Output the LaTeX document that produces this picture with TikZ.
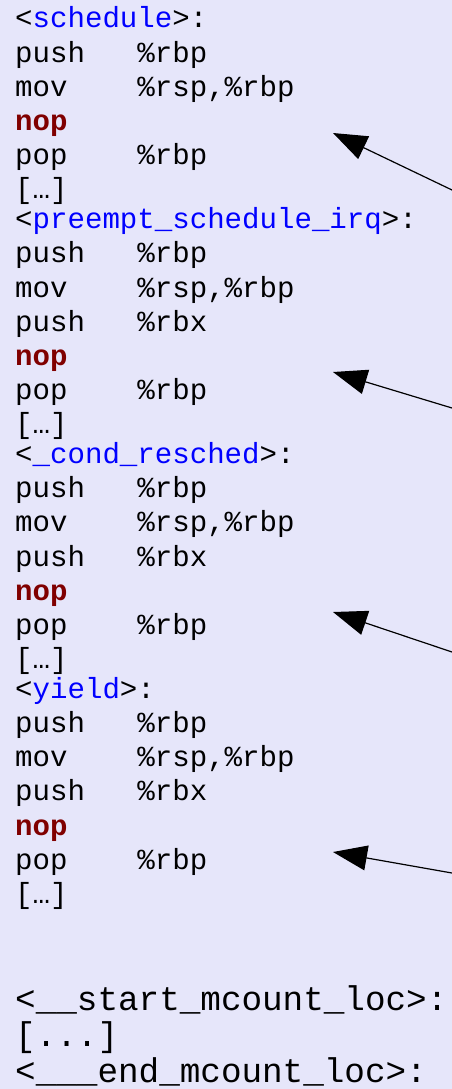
\documentclass[tikz,border=0pt]{standalone}
\usepackage{fontspec}
\usetikzlibrary{arrows.meta}
\usepackage{xcolor}
\newfontfamily\asmfont{Liberation Mono}
\definecolor{bgcol}{RGB}{230,230,250}
\definecolor{fnblue}{RGB}{0,0,255}
\definecolor{nopred}{RGB}{128,0,0}
\newcommand{\fn}[1]{<\textcolor{fnblue}{#1}>:}

\begin{document}
\begin{tikzpicture}[x=1pt,y=-1pt]
    \tikzstyle{asm}=[anchor=base west,inner sep=0pt,font=\asmfont\fontsize{29.1}{34}\selectfont]
    \tikzstyle{bigasm}=[asm,text height=20pt,text depth=5pt,font=\asmfont\fontsize{34.3}{40}\selectfont]
    \tikzstyle{nopline}=[asm,text=nopred,font=\asmfont\bfseries\fontsize{29.1}{34}\selectfont]
    \tikzstyle{hint}=[-{Triangle[length=34pt,width=25pt]},line width=1.2pt]

    \useasboundingbox[fill=bgcol] (0,0) rectangle (452,1089);

    % schedule
    \node[asm] (s0) at (15,28) {\fn{schedule}};
    \node[asm] (s1) at (15,62.1) {push\ \ \ \%rbp};
    \node[asm] (s2) at (15,96.1) {mov\ \ \ \ \%rsp,\%rbp};
    \node[nopline] (nop1) at (15,130.2) {nop};
    \node[asm] (s4) at (15,164.3) {pop\ \ \ \ \%rbp};
    \node[asm] (s5) at (15,198.4) {[…]};

    % preempt_schedule_irq
    \node[asm] (p0) at (15,228.9) {\fn{preempt\_schedule\_irq}};
    \node[asm] (p1) at (15,262.9) {push\ \ \ \%rbp};
    \node[asm] (p2) at (15,297) {mov\ \ \ \ \%rsp,\%rbp};
    \node[asm] (p3) at (15,331.1) {push\ \ \ \%rbx};
    \node[nopline] (nop2) at (15,365.1) {nop};
    \node[asm] (p5) at (15,399.2) {pop\ \ \ \ \%rbp};
    \node[asm] (p6) at (15,433.3) {[…]};

    % _cond_resched
    \node[asm] (c0) at (15,463.8) {\fn{\_cond\_resched}};
    \node[asm] (c1) at (15,497.8) {push\ \ \ \%rbp};
    \node[asm] (c2) at (15,531.9) {mov\ \ \ \ \%rsp,\%rbp};
    \node[asm] (c3) at (15,566) {push\ \ \ \%rbx};
    \node[nopline] (nop3) at (15,600.1) {nop};
    \node[asm] (c5) at (15,634.1) {pop\ \ \ \ \%rbp};
    \node[asm] (c6) at (15,668.2) {[…]};

    % yield
    \node[asm] (y0) at (15,698.7) {\fn{yield}};
    \node[asm] (y1) at (15,732.8) {push\ \ \ \%rbp};
    \node[asm] (y2) at (15,766.8) {mov\ \ \ \ \%rsp,\%rbp};
    \node[asm] (y3) at (15,800.9) {push\ \ \ \%rbx};
    \node[nopline] (nop4) at (15,835) {nop};
    \node[asm] (y5) at (15,869) {pop\ \ \ \ \%rbp};
    \node[asm] (y6) at (15,903.1) {[…]};

    % mcount section
    \node[bigasm] (m0) at (15,1010) {<\_\_start\_mcount\_loc>:};
    \node[bigasm] (m1) at (15,1046) {[...]};
    \node[bigasm] (m2) at (15,1082) {<\_\_\_end\_mcount\_loc>:};

    % arrows towards the nops
    \coordinate (from1) at (452,190);
    \coordinate (to1) at (333,133);
    \coordinate (from2) at (452,408);
    \coordinate (to2) at (333,372);
    \coordinate (from3) at (452,652);
    \coordinate (to3) at (333,612);
    \coordinate (from4) at (452,873);
    \coordinate (to4) at (333,852);
    \draw[hint] (from1) -- (to1);
    \draw[hint] (from2) -- (to2);
    \draw[hint] (from3) -- (to3);
    \draw[hint] (from4) -- (to4);
\end{tikzpicture}
\end{document}
